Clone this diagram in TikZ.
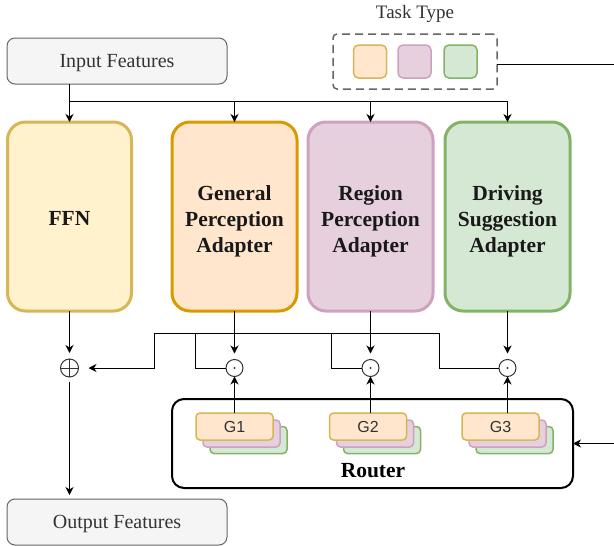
\documentclass[tikz,border=0pt]{standalone}
\usepackage{fontspec}
\setmainfont{Liberation Serif}
\newfontfamily\gfont{Liberation Sans}
\usetikzlibrary{arrows.meta}
\definecolor{grayfill}{HTML}{F5F5F5}
\definecolor{graydraw}{HTML}{666666}
\definecolor{graytext}{HTML}{333333}
\definecolor{yfill}{HTML}{FFF2CC}
\definecolor{ydraw}{HTML}{D6B656}
\definecolor{ofill}{HTML}{FFE6CC}
\definecolor{odraw}{HTML}{D79B00}
\definecolor{pfill}{HTML}{E6D0DE}
\definecolor{pdraw}{HTML}{CDA2BE}
\definecolor{gfill}{HTML}{D5E8D4}
\definecolor{gdraw}{HTML}{82B366}
\begin{document}
\begin{tikzpicture}[x=1pt,y=-1pt,
  featbox/.style={draw=graydraw, fill=grayfill, rounded corners=8pt, line width=1pt,
    minimum width=220pt, minimum height=46pt, inner sep=0pt, outer sep=0pt, text=graytext,
    text height=13pt, text depth=0pt, font=\fontsize{20}{24}\selectfont},
  adapter/.style={rounded corners=18pt, line width=3pt, minimum width=125pt,
    minimum height=189pt, inner sep=0pt, outer sep=0pt},
  adtext/.style={align=center, text=black!90, inner sep=0pt,
    font=\bfseries\fontsize{21.5}{26.3}\selectfont},
  op/.style={circle, draw=black!80, line width=1pt, minimum size=17pt, inner sep=0pt, outer sep=0pt},
  arr/.style={-{Stealth[length=8pt,width=8pt,inset=2.5pt]}, line width=1pt},
  ln/.style={line width=1pt},
  sq/.style={rounded corners=5pt, line width=1.5pt, minimum size=33pt, inner sep=0pt, outer sep=0pt},
  gbox/.style={rounded corners=4pt, line width=1.5pt, minimum width=77pt, minimum height=27pt,
    inner sep=0pt, outer sep=0pt, font=\gfont\fontsize{16}{19}\selectfont, text=graytext}
]
\useasboundingbox (0,0) rectangle (614,546);

% top
\node[featbox] (inp) at (117,61) {Input Features};
\node[font=\fontsize{19}{22}\selectfont, text=graytext] (tasklbl) at (415,14) {Task Type};
\node[draw=graydraw, dash pattern=on 8pt off 5pt, line width=1.5pt, rounded corners=4pt,
  minimum width=164pt, minimum height=55pt, inner sep=0pt, outer sep=0pt] (task) at (415,61.5) {};
\node[sq, draw=ydraw, fill=ofill] (t1) at (370,61.5) {};
\node[sq, draw=pdraw, fill=pfill] (t2) at (414.5,61.5) {};
\node[sq, draw=gdraw, fill=gfill] (t3) at (460.5,61.5) {};

% adapters
\node[adapter, draw=ydraw, fill=yfill, minimum width=124pt] (ffn) at (69.5,216.5) {};
\node[adapter, draw=odraw, fill=ofill] (gpa) at (234.5,216.5) {};
\node[adapter, draw=pdraw, fill=pfill] (rpa) at (370.5,216.5) {};
\node[adapter, draw=gdraw, fill=gfill] (dsa) at (507.5,216.5) {};
\node[adtext] (ffnT) at (69.5,218.5) {FFN};
\node[adtext] (gpaT) at (234.5,221.5) {General\\Perception\\Adapter};
\node[adtext] (rpaT) at (370.5,221.5) {Region\\Perception\\Adapter};
\node[adtext] (dsaT) at (507.5,221.5) {Driving\\Suggestion\\Adapter};

% operators
\node[op, minimum size=18pt] (plus) at (69.5,368) {};
\draw[line width=1pt, black!80] (plus.north) -- (plus.south) (plus.west) -- (plus.east);
\node[op] (d1) at (234.5,368) {};
\node[op] (d2) at (370.5,368) {};
\node[op] (d3) at (507.5,368) {};
\foreach \d in {d1,d2,d3} \fill[black!80] (\d) circle (1.2pt);

% router
\node[draw, line width=2pt, rounded corners=12pt, minimum width=401pt, minimum height=89pt,
  inner sep=0pt, outer sep=0pt] (router) at (372.5,443.5) {};
\node[font=\bfseries\fontsize{21.5}{24}\selectfont] (rlabel) at (373,470.5) {Router};
\foreach \n/\x in {1/234.5, 2/368, 3/500.5}{
  \node[gbox, draw=gdraw, fill=gfill] (gg\n) at (\x+14,440) {};
  \node[gbox, draw=pdraw, fill=pfill] (gp\n) at (\x+7,433.5) {};
  \node[gbox, draw=ydraw, fill=ofill] (g\n) at (\x,426.5) {G\n};
}

% output
\node[featbox] (outp) at (117,522) {Output Features};

% connectors
\coordinate (busL) at (69.5,101.5);
\coordinate (busR) at (507.5,101.5);
\draw[ln] (busL) -- (busR);
\draw[arr] (inp.south -| ffn.north) -- (ffn.north);
\draw[arr] (gpa.north |- busL) -- (gpa.north);
\draw[arr] (rpa.north |- busL) -- (rpa.north);
\draw[arr] (dsa.north |- busL) -- (dsa.north);

\draw[arr, shorten >=6pt] (ffn.south) -- (plus.north);
\draw[arr, shorten >=6pt] (gpa.south) -- (d1.north);
\draw[arr, shorten >=6pt] (rpa.south) -- (d2.north);
\draw[arr, shorten >=6pt] (dsa.south) -- (d3.north);

\coordinate (m0) at (154,333);
\coordinate (m1) at (195,333);
\coordinate (m2) at (331,333);
\coordinate (m3) at (439,333);
\draw[arr, shorten >=10pt] (m3) -- (m0) |- (plus.east);
\draw[ln] (m1) |- (d1.west);
\draw[ln] (m2) |- (d2.west);
\draw[ln] (m3) |- (d3.west);

\draw[arr] (d1 |- g1.north) -- (d1.south);
\draw[arr] (d2 |- g2.north) -- (d2.south);
\draw[arr] (d3 |- g3.north) -- (d3.south);

\draw[arr, shorten <=5pt, shorten >=4pt] (plus.south) -- (plus |- outp.north);

\coordinate (c1) at (616,64);
\coordinate (c2) at (616,443.5);
\draw[arr] ([yshift=-2.5pt]task.east) -- (c1) -- (c2) -- (router.east);
\end{tikzpicture}
\end{document}
